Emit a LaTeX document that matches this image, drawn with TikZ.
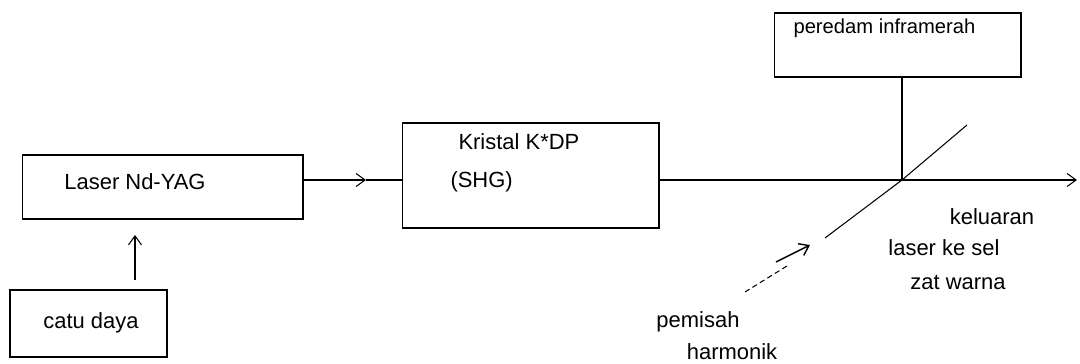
\documentclass[tikz,border=0pt]{standalone}
\usepackage{fontspec}
\setmainfont{Liberation Sans}
\usetikzlibrary{arrows.meta, positioning, calc}

\begin{document}
\begin{tikzpicture}[
  x=0.02cm, y=-0.02cm, >={Straight Barb[length=1.8mm, width=2.6mm]}, line width=0.6pt,
  box/.style  = {draw, rectangle, inner sep=0pt},
  txt/.style  = {inner sep=0pt, font=\fontsize{12.5}{15}\selectfont},
  stxt/.style = {inner sep=0pt, font=\fontsize{11.5}{14}\selectfont},
]
  \useasboundingbox (0,0) rectangle (1080,364);

  % Boxes
  \node[box, minimum width=5.62cm, minimum height=1.28cm] (laser)   at (162.5,187)  {};
  \node[box, minimum width=3.14cm, minimum height=1.34cm] (catu)    at (88.5,323.5) {};
  \node[box, minimum width=5.14cm, minimum height=2.10cm] (kristal) at (530.5,175.5) {};
  \node[box, minimum width=4.94cm, minimum height=1.28cm] (peredam) at (897.5,45)   {};

  % Box texts
  \node[txt]                 (tlaser)   at (135,182)  {Laser Nd-YAG};
  \node[txt]                 (tcatu)    at (91,323)   {catu daya};
  \node[txt, anchor=west]    (tkristal) at (458,142)  {Kristal K*DP};
  \node[txt, anchor=west]    (tshg)     at (450,182)  {(SHG)};
  \node[stxt, anchor=west]   (tperedam) at (793,28)   {peredam inframerah};

  % Beam coordinates
  \coordinate (pwr)   at (135,280);
  \coordinate (pump)  at (135,235);
  \coordinate (beam)  at (0,180);
  \coordinate (mid)   at (366,180);
  \coordinate (split) at (902,180);
  \coordinate (out)   at (1077,180);

  % Beam path
  \draw[->] (pwr) -- (pump);
  \draw[->] (laser.east |- beam) -- (mid);
  \draw (mid) -- (kristal.west |- beam);
  \draw[->] (kristal.east |- beam) -- (out);

  % Harmonic splitter
  \draw (split) -- ++(-77,58);
  \draw (split) -- ++(65,-55);
  \draw (split) -- (split |- peredam.south);

  % Output labels
  \node[txt] (tkel)  at (992,217) {keluaran};
  \node[txt] (tsel)  at (944,248) {laser ke sel};
  \node[txt] (tzat)  at (958,283) {zat warna};

  % Splitter label
  \node[txt] (tpem)  at (698,322) {pemisah};
  \node[txt] (tharm) at (732,352) {harmonik};
  \coordinate (ptail) at (776,262);
  \coordinate (phead) at (810,245);
  \draw[densely dashed] (745,292) -- (787,266);
  \draw[->, thick] (ptail) -- (phead);
\end{tikzpicture}
\end{document}
